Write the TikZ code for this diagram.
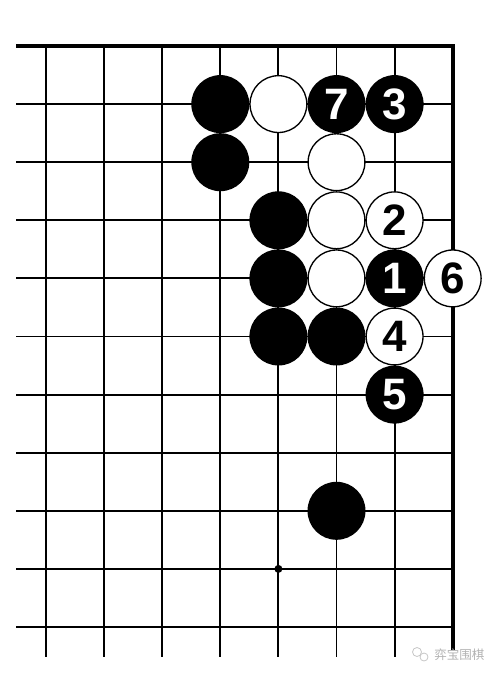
\documentclass[tikz,border=0pt]{standalone}
\usepackage{fontspec}
\setmainfont{Liberation Sans}
\newfontfamily\cjk{Noto Sans CJK SC}
\begin{document}
\begin{tikzpicture}[x=0.75pt,y=-0.75pt,
  gridline/.style={line width=1.4pt, black},
  edgeline/.style={line width=3pt, black, line join=miter},
  stonefont/.style={font=\fontsize{33}{33}\selectfont\bfseries},
  bstone/.style={circle, fill=black, minimum size=43.5pt, inner sep=0pt, text=white, stonefont},
  wstone/.style={circle, fill=white, draw=black, line width=1pt, minimum size=42.6pt, inner sep=0pt, text=black, stonefont}]
\useasboundingbox (0,0) rectangle (500,674);
\def\P#1#2{({46+58.1*#1},{46+58.1*#2})}
% grid
\foreach \i in {0,...,6} \draw[gridline] ({46+58.1*\i},46) -- ({46+58.1*\i},657);
\foreach \j in {1,...,10} \draw[gridline] (16,{46+58.1*\j}) -- (452.7,{46+58.1*\j});
\draw[edgeline] (16,46) -- (452.7,46) -- (452.7,650);
\fill ({46+58.1*4},{46+58.1*9}) circle (4);
% stones
\node[bstone] (s1) at \P{3}{1} {};
\node[wstone] (s2) at \P{4}{1} {};
\node[bstone] (s7) at \P{5}{1} {7};
\node[bstone] (s3) at \P{6}{1} {3};
\node[bstone] (s4) at \P{3}{2} {};
\node[wstone] (s5) at \P{5}{2} {};
\node[bstone] (s6) at \P{4}{3} {};
\node[wstone] (s8) at \P{5}{3} {};
\node[wstone] (m2) at \P{6}{3} {2};
\node[bstone] (s9) at \P{4}{4} {};
\node[wstone] (s10) at \P{5}{4} {};
\node[bstone] (m1) at \P{6}{4} {1};
\node[wstone] (m6) at \P{7}{4} {6};
\node[bstone] (s11) at \P{4}{5} {};
\node[bstone] (s12) at \P{5}{5} {};
\node[wstone] (m4) at \P{6}{5} {4};
\node[bstone] (m5) at \P{6}{6} {5};
\node[bstone] (s13) at \P{5}{8} {};
% watermark
\draw[gray!45, line width=0.6pt] (417,652) circle (4.5);
\draw[gray!45, line width=0.6pt] (424,657) circle (4);
\node[text=gray!60, font=\cjk\fontsize{9.4}{10}\selectfont, anchor=west, inner sep=0pt] (wm) at (434,655) {弈宝围棋};
\end{tikzpicture}
\end{document}
